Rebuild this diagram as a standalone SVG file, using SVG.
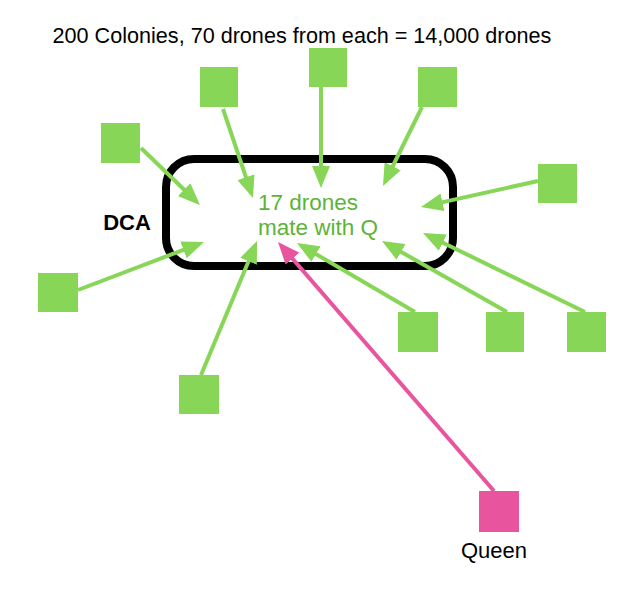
<svg xmlns="http://www.w3.org/2000/svg" width="640" height="595" viewBox="0 0 640 595">
<style>
text{font-family:"Liberation Sans",Arial,Helvetica,sans-serif}
.drone{fill:#87D657}
.queen{fill:#E8559E}
.g{stroke:#87D657;stroke-width:4;fill:none;marker-end:url(#ag)}
.p{stroke:#E8559E;stroke-width:4;fill:none;marker-end:url(#ap)}
</style>
<defs>
<marker id="ag" viewBox="0 0 22 18" refX="17" refY="9" markerWidth="22" markerHeight="18" markerUnits="userSpaceOnUse" orient="auto"><path d="M0,0 L22,9 L0,18 Z" fill="#87D657"/></marker>
<marker id="ap" viewBox="0 0 22 18" refX="17" refY="9" markerWidth="22" markerHeight="18" markerUnits="userSpaceOnUse" orient="auto"><path d="M0,0 L22,9 L0,18 Z" fill="#E8559E"/></marker>
</defs>
<rect width="640" height="595" fill="#fff"/>
<text x="302" y="43" font-size="21.6" text-anchor="middle" fill="#000">200 Colonies, 70 drones from each = 14,000 drones</text>
<g id="dca">
<rect x="166" y="159" width="287" height="107" rx="28" fill="none" stroke="#000" stroke-width="8"/>
<text x="127" y="230" font-size="22" font-weight="bold" text-anchor="middle" fill="#000">DCA</text>
<text x="258" y="210" font-size="22.5" fill="#5CB338">17 drones</text>
<text x="258" y="235" font-size="22.5" fill="#5CB338">mate with Q</text>
</g>
<g id="connectors">
<line class="g" x1="141" y1="148" x2="196.4" y2="201.5"/>
<line class="g" x1="223" y1="109" x2="251.4" y2="193.3"/>
<line class="g" x1="321" y1="87" x2="321" y2="183"/>
<line class="g" x1="422" y1="107" x2="385.2" y2="181.5"/>
<line class="g" x1="538" y1="181" x2="425.9" y2="205.9"/>
<line class="g" x1="78" y1="290" x2="199.3" y2="243.8"/>
<line class="g" x1="201" y1="375" x2="255.1" y2="245.6"/>
<line class="g" x1="415" y1="312" x2="301.3" y2="245.5"/>
<line class="g" x1="507" y1="312" x2="386.3" y2="243.5"/>
<line class="g" x1="585" y1="312" x2="427.5" y2="235.2"/>
<line class="p" x1="494" y1="491" x2="281.3" y2="245.8"/>
</g>
<g id="drone1"><rect class="drone" x="101" y="123" width="39" height="40"/></g>
<g id="drone2"><rect class="drone" x="200" y="67" width="38" height="40"/></g>
<g id="drone3"><rect class="drone" x="309" y="48" width="38" height="39"/></g>
<g id="drone4"><rect class="drone" x="418" y="67" width="39" height="40"/></g>
<g id="drone5"><rect class="drone" x="538" y="164" width="39" height="39"/></g>
<g id="drone6"><rect class="drone" x="38" y="273" width="40" height="39"/></g>
<g id="drone7"><rect class="drone" x="179" y="375" width="40" height="39"/></g>
<g id="drone8"><rect class="drone" x="398" y="312" width="40" height="40"/></g>
<g id="drone9"><rect class="drone" x="486" y="312" width="38" height="40"/></g>
<g id="drone10"><rect class="drone" x="567" y="312" width="39" height="40"/></g>
<g id="queen"><rect class="queen" x="479" y="491" width="40" height="41"/>
<text x="494" y="558" font-size="22" text-anchor="middle" fill="#000">Queen</text></g>
</svg>
